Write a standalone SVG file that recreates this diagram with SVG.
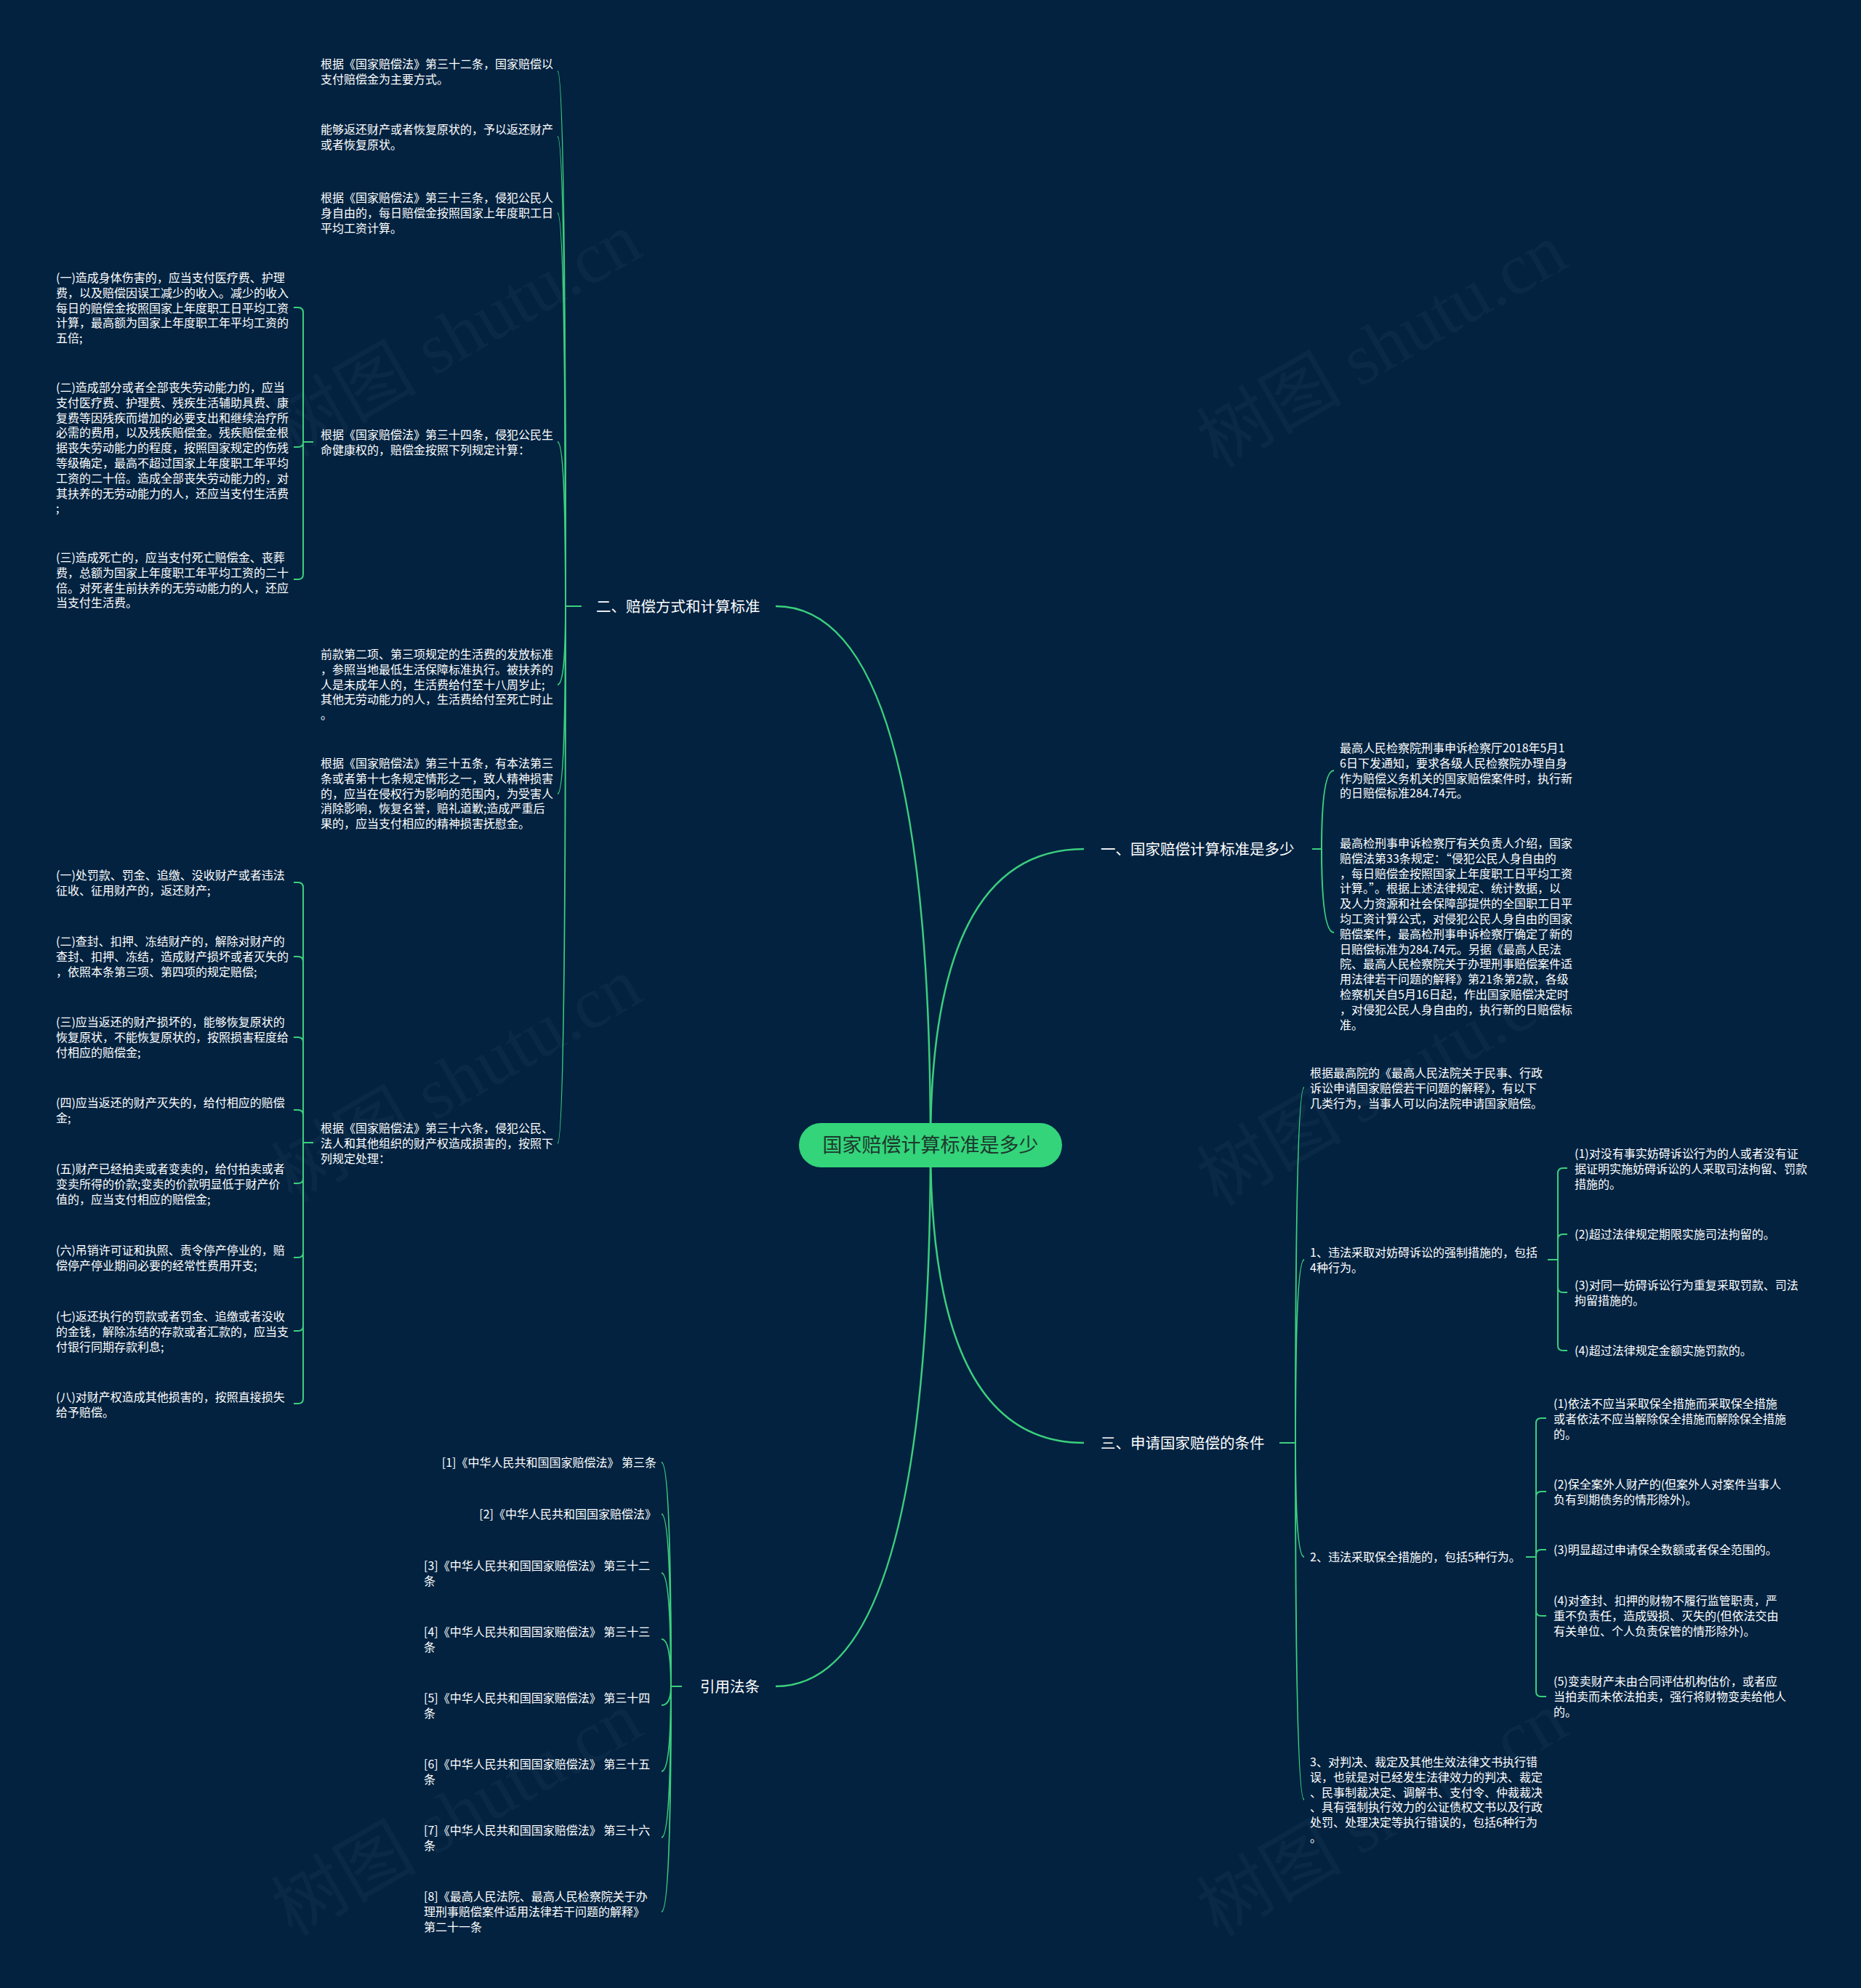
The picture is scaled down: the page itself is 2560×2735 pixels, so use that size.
<svg xmlns="http://www.w3.org/2000/svg" width="2560" height="2735" viewBox="0 0 2560 2735">
<style>
.t{font-family:"Noto Sans CJK SC","Noto Sans",sans-serif;font-size:16px;fill:#ffffff}
.lbl{font-family:"Noto Sans CJK SC","Noto Sans",sans-serif;font-size:20.5px;fill:#ffffff}
.ctr{font-family:"Noto Sans CJK SC","Noto Sans",sans-serif;font-size:27px;fill:#1d3a2e}
.c{fill:none;stroke:#3ccf7d;stroke-width:2}
.m{fill:none;stroke:#3ccf7d;stroke-width:2.5}
.wm{font-family:"Liberation Serif","Noto Sans CJK SC",serif;font-size:100px;fill:#ffffff;fill-opacity:0.035}
</style>
<rect x="0" y="0" width="2560" height="2735" fill="#022240"/>
<g id="watermarks">
<text class="wm" text-anchor="middle" transform="translate(645,490) rotate(-30)">树图 shutu.cn</text>
<text class="wm" text-anchor="middle" transform="translate(1918,505) rotate(-30)">树图 shutu.cn</text>
<text class="wm" text-anchor="middle" transform="translate(645,1515) rotate(-30)">树图 shutu.cn</text>
<text class="wm" text-anchor="middle" transform="translate(1918,1520) rotate(-30)">树图 shutu.cn</text>
<text class="wm" text-anchor="middle" transform="translate(645,2525) rotate(-30)">树图 shutu.cn</text>
<text class="wm" text-anchor="middle" transform="translate(1918,2525) rotate(-30)">树图 shutu.cn</text>
</g>
<g id="connectors">
<path class="m" d="M1280 1575 Q1280 834 1067 834"/>
<path class="m" d="M1280 1575 Q1280 1168 1491 1168"/>
<path class="m" d="M1280 1575 Q1280 1985 1491 1985"/>
<path class="m" d="M1280 1575 Q1280 2320 1067 2320"/>
<path class="c" d="M800 834 L778 834"/>
<path class="c" d="M778 834 Q778 98 767 98"/>
<path class="c" d="M778 834 Q778 188 767 188"/>
<path class="c" d="M778 834 Q778 293 767 293"/>
<path class="c" d="M778 834 Q778 608 767 608"/>
<path class="c" d="M778 834 Q778 942 767 942"/>
<path class="c" d="M778 834 Q778 1092 767 1092"/>
<path class="c" d="M778 834 Q778 1573 767 1573"/>
<path class="c" d="M431 608 L417 608"/>
<path class="c" d="M417 608 L417 430 Q417 423 410 423 L404 423"/>
<path class="c" d="M417 608 L417 609 Q417 615 410 615 L404 615"/>
<path class="c" d="M417 608 L417 790 Q417 797 410 797 L404 797"/>
<path class="c" d="M431 1572 L417 1572"/>
<path class="c" d="M417 1572 L417 1221 Q417 1214 410 1214 L404 1214"/>
<path class="c" d="M417 1572 L417 1323 Q417 1316 410 1316 L404 1316"/>
<path class="c" d="M417 1572 L417 1434 Q417 1427 410 1427 L404 1427"/>
<path class="c" d="M417 1572 L417 1534 Q417 1527 410 1527 L404 1527"/>
<path class="c" d="M417 1572 L417 1621 Q417 1628 410 1628 L404 1628"/>
<path class="c" d="M417 1572 L417 1723 Q417 1730 410 1730 L404 1730"/>
<path class="c" d="M417 1572 L417 1824 Q417 1831 410 1831 L404 1831"/>
<path class="c" d="M417 1572 L417 1924 Q417 1931 410 1931 L404 1931"/>
<path class="c" d="M1805 1168 L1818 1168"/>
<path class="c" d="M1818 1168 Q1818 1060 1835 1060"/>
<path class="c" d="M1818 1168 Q1818 1283 1835 1283"/>
<path class="c" d="M1760 1985 L1782 1985"/>
<path class="c" d="M1782 1985 Q1782 1496 1794 1496"/>
<path class="c" d="M1782 1985 Q1782 1733 1794 1733"/>
<path class="c" d="M1782 1985 Q1782 2142 1794 2142"/>
<path class="c" d="M1782 1985 Q1782 2476 1794 2476"/>
<path class="c" d="M2129 1733 L2143 1733"/>
<path class="c" d="M2143 1733 L2143 1614 Q2143 1607 2150 1607 L2156 1607"/>
<path class="c" d="M2143 1733 L2143 1705 Q2143 1698 2150 1698 L2156 1698"/>
<path class="c" d="M2143 1733 L2143 1771 Q2143 1778 2150 1778 L2156 1778"/>
<path class="c" d="M2143 1733 L2143 1851 Q2143 1858 2150 1858 L2156 1858"/>
<path class="c" d="M2099 2142 L2113 2142"/>
<path class="c" d="M2113 2142 L2113 1958 Q2113 1951 2120 1951 L2127 1951"/>
<path class="c" d="M2113 2142 L2113 2059 Q2113 2052 2120 2052 L2127 2052"/>
<path class="c" d="M2113 2142 L2113 2139 Q2113 2132 2120 2132 L2127 2132"/>
<path class="c" d="M2113 2142 L2113 2216 Q2113 2223 2120 2223 L2127 2223"/>
<path class="c" d="M2113 2142 L2113 2327 Q2113 2334 2120 2334 L2127 2334"/>
<path class="c" d="M938 2320 L923 2320"/>
<path class="c" d="M923 2320 Q923 2012 910 2012"/>
<path class="c" d="M923 2320 Q923 2083 910 2083"/>
<path class="c" d="M923 2320 Q923 2164 910 2164"/>
<path class="c" d="M923 2320 Q923 2255 910 2255"/>
<path class="c" d="M923 2320 Q923 2346 910 2346"/>
<path class="c" d="M923 2320 Q923 2437 910 2437"/>
<path class="c" d="M923 2320 Q923 2528 910 2528"/>
<path class="c" d="M923 2320 Q923 2630 910 2630"/>
</g>
<g id="center">
<rect x="1099" y="1545" width="362" height="61" rx="30.5" fill="#33d47a"/>
<text class="ctr" x="1280" y="1585" text-anchor="middle">国家赔偿计算标准是多少</text>
</g>
<g id="b2"><text class="lbl" x="820" y="842">二、赔偿方式和计算标准</text></g>
<g id="b1"><text class="lbl" x="1514" y="1176">一、国家赔偿计算标准是多少</text></g>
<g id="b3"><text class="lbl" x="1514" y="1993">三、申请国家赔偿的条件</text></g>
<g id="b4"><text class="lbl" x="963" y="2328">引用法条</text></g>
<g id="b2-1"><text class="t" x="441" y="94"><tspan x="441">根据《国家赔偿法》第三十二条，国家赔偿以</tspan><tspan x="441" dy="20.8">支付赔偿金为主要方式。</tspan></text></g>
<g id="b2-2"><text class="t" x="441" y="184"><tspan x="441">能够返还财产或者恢复原状的，予以返还财产</tspan><tspan x="441" dy="20.8">或者恢复原状。</tspan></text></g>
<g id="b2-3"><text class="t" x="441" y="278"><tspan x="441">根据《国家赔偿法》第三十三条，侵犯公民人</tspan><tspan x="441" dy="20.8">身自由的，每日赔偿金按照国家上年度职工日</tspan><tspan x="441" dy="20.8">平均工资计算。</tspan></text></g>
<g id="b2-4"><text class="t" x="441" y="604"><tspan x="441">根据《国家赔偿法》第三十四条，侵犯公民生</tspan><tspan x="441" dy="20.8">命健康权的，赔偿金按照下列规定计算：</tspan></text></g>
<g id="b2-5"><text class="t" x="441" y="906"><tspan x="441">前款第二项、第三项规定的生活费的发放标准</tspan><tspan x="441" dy="20.8">，参照当地最低生活保障标准执行。被扶养的</tspan><tspan x="441" dy="20.8">人是未成年人的，生活费给付至十八周岁止;</tspan><tspan x="441" dy="20.8">其他无劳动能力的人，生活费给付至死亡时止</tspan><tspan x="441" dy="20.8">。</tspan></text></g>
<g id="b2-6"><text class="t" x="441" y="1056"><tspan x="441">根据《国家赔偿法》第三十五条，有本法第三</tspan><tspan x="441" dy="20.8">条或者第十七条规定情形之一，致人精神损害</tspan><tspan x="441" dy="20.8">的，应当在侵权行为影响的范围内，为受害人</tspan><tspan x="441" dy="20.8">消除影响，恢复名誉，赔礼道歉;造成严重后</tspan><tspan x="441" dy="20.8">果的，应当支付相应的精神损害抚慰金。</tspan></text></g>
<g id="b2-7"><text class="t" x="441" y="1558"><tspan x="441">根据《国家赔偿法》第三十六条，侵犯公民、</tspan><tspan x="441" dy="20.8">法人和其他组织的财产权造成损害的，按照下</tspan><tspan x="441" dy="20.8">列规定处理：</tspan></text></g>
<g id="b2-4-1"><text class="t" x="77" y="388"><tspan x="77">(一)造成身体伤害的，应当支付医疗费、护理</tspan><tspan x="77" dy="20.8">费，以及赔偿因误工减少的收入。减少的收入</tspan><tspan x="77" dy="20.8">每日的赔偿金按照国家上年度职工日平均工资</tspan><tspan x="77" dy="20.8">计算，最高额为国家上年度职工年平均工资的</tspan><tspan x="77" dy="20.8">五倍;</tspan></text></g>
<g id="b2-4-2"><text class="t" x="77" y="539"><tspan x="77">(二)造成部分或者全部丧失劳动能力的，应当</tspan><tspan x="77" dy="20.8">支付医疗费、护理费、残疾生活辅助具费、康</tspan><tspan x="77" dy="20.8">复费等因残疾而增加的必要支出和继续治疗所</tspan><tspan x="77" dy="20.8">必需的费用，以及残疾赔偿金。残疾赔偿金根</tspan><tspan x="77" dy="20.8">据丧失劳动能力的程度，按照国家规定的伤残</tspan><tspan x="77" dy="20.8">等级确定，最高不超过国家上年度职工年平均</tspan><tspan x="77" dy="20.8">工资的二十倍。造成全部丧失劳动能力的，对</tspan><tspan x="77" dy="20.8">其扶养的无劳动能力的人，还应当支付生活费</tspan><tspan x="77" dy="20.8">;</tspan></text></g>
<g id="b2-4-3"><text class="t" x="77" y="773"><tspan x="77">(三)造成死亡的，应当支付死亡赔偿金、丧葬</tspan><tspan x="77" dy="20.8">费，总额为国家上年度职工年平均工资的二十</tspan><tspan x="77" dy="20.8">倍。对死者生前扶养的无劳动能力的人，还应</tspan><tspan x="77" dy="20.8">当支付生活费。</tspan></text></g>
<g id="b2-7-1"><text class="t" x="77" y="1210"><tspan x="77">(一)处罚款、罚金、追缴、没收财产或者违法</tspan><tspan x="77" dy="20.8">征收、征用财产的，返还财产;</tspan></text></g>
<g id="b2-7-2"><text class="t" x="77" y="1301"><tspan x="77">(二)查封、扣押、冻结财产的，解除对财产的</tspan><tspan x="77" dy="20.8">查封、扣押、冻结，造成财产损坏或者灭失的</tspan><tspan x="77" dy="20.8">，依照本条第三项、第四项的规定赔偿;</tspan></text></g>
<g id="b2-7-3"><text class="t" x="77" y="1412"><tspan x="77">(三)应当返还的财产损坏的，能够恢复原状的</tspan><tspan x="77" dy="20.8">恢复原状，不能恢复原状的，按照损害程度给</tspan><tspan x="77" dy="20.8">付相应的赔偿金;</tspan></text></g>
<g id="b2-7-4"><text class="t" x="77" y="1523"><tspan x="77">(四)应当返还的财产灭失的，给付相应的赔偿</tspan><tspan x="77" dy="20.8">金;</tspan></text></g>
<g id="b2-7-5"><text class="t" x="77" y="1614"><tspan x="77">(五)财产已经拍卖或者变卖的，给付拍卖或者</tspan><tspan x="77" dy="20.8">变卖所得的价款;变卖的价款明显低于财产价</tspan><tspan x="77" dy="20.8">值的，应当支付相应的赔偿金;</tspan></text></g>
<g id="b2-7-6"><text class="t" x="77" y="1726"><tspan x="77">(六)吊销许可证和执照、责令停产停业的，赔</tspan><tspan x="77" dy="20.8">偿停产停业期间必要的经常性费用开支;</tspan></text></g>
<g id="b2-7-7"><text class="t" x="77" y="1817"><tspan x="77">(七)返还执行的罚款或者罚金、追缴或者没收</tspan><tspan x="77" dy="20.8">的金钱，解除冻结的存款或者汇款的，应当支</tspan><tspan x="77" dy="20.8">付银行同期存款利息;</tspan></text></g>
<g id="b2-7-8"><text class="t" x="77" y="1928"><tspan x="77">(八)对财产权造成其他损害的，按照直接损失</tspan><tspan x="77" dy="20.8">给予赔偿。</tspan></text></g>
<g id="b1-1"><text class="t" x="1843" y="1035"><tspan x="1843">最高人民检察院刑事申诉检察厅2018年5月1</tspan><tspan x="1843" dy="20.8">6日下发通知，要求各级人民检察院办理自身</tspan><tspan x="1843" dy="20.8">作为赔偿义务机关的国家赔偿案件时，执行新</tspan><tspan x="1843" dy="20.8">的日赔偿标准284.74元。</tspan></text></g>
<g id="b1-2"><text class="t" x="1843" y="1166"><tspan x="1843">最高检刑事申诉检察厅有关负责人介绍，国家</tspan><tspan x="1843" dy="20.8">赔偿法第33条规定：“侵犯公民人身自由的</tspan><tspan x="1843" dy="20.8">，每日赔偿金按照国家上年度职工日平均工资</tspan><tspan x="1843" dy="20.8">计算。”。根据上述法律规定、统计数据，以</tspan><tspan x="1843" dy="20.8">及人力资源和社会保障部提供的全国职工日平</tspan><tspan x="1843" dy="20.8">均工资计算公式，对侵犯公民人身自由的国家</tspan><tspan x="1843" dy="20.8">赔偿案件，最高检刑事申诉检察厅确定了新的</tspan><tspan x="1843" dy="20.8">日赔偿标准为284.74元。另据《最高人民法</tspan><tspan x="1843" dy="20.8">院、最高人民检察院关于办理刑事赔偿案件适</tspan><tspan x="1843" dy="20.8">用法律若干问题的解释》第21条第2款，各级</tspan><tspan x="1843" dy="20.8">检察机关自5月16日起，作出国家赔偿决定时</tspan><tspan x="1843" dy="20.8">，对侵犯公民人身自由的，执行新的日赔偿标</tspan><tspan x="1843" dy="20.8">准。</tspan></text></g>
<g id="b3-1"><text class="t" x="1802" y="1482"><tspan x="1802">根据最高院的《最高人民法院关于民事、行政</tspan><tspan x="1802" dy="20.8">诉讼申请国家赔偿若干问题的解释》，有以下</tspan><tspan x="1802" dy="20.8">几类行为，当事人可以向法院申请国家赔偿。</tspan></text></g>
<g id="b3-2"><text class="t" x="1802" y="1729"><tspan x="1802">1、违法采取对妨碍诉讼的强制措施的，包括</tspan><tspan x="1802" dy="20.8">4种行为。</tspan></text></g>
<g id="b3-3"><text class="t" x="1802" y="2148">2、违法采取保全措施的，包括5种行为。</text></g>
<g id="b3-4"><text class="t" x="1802" y="2430"><tspan x="1802">3、对判决、裁定及其他生效法律文书执行错</tspan><tspan x="1802" dy="20.8">误，也就是对已经发生法律效力的判决、裁定</tspan><tspan x="1802" dy="20.8">、民事制裁决定、调解书、支付令、仲裁裁决</tspan><tspan x="1802" dy="20.8">、具有强制执行效力的公证债权文书以及行政</tspan><tspan x="1802" dy="20.8">处罚、处理决定等执行错误的，包括6种行为</tspan><tspan x="1802" dy="20.8">。</tspan></text></g>
<g id="b3-2-1"><text class="t" x="2166" y="1593"><tspan x="2166">(1)对没有事实妨碍诉讼行为的人或者没有证</tspan><tspan x="2166" dy="20.8">据证明实施妨碍诉讼的人采取司法拘留、罚款</tspan><tspan x="2166" dy="20.8">措施的。</tspan></text></g>
<g id="b3-2-2"><text class="t" x="2166" y="1704">(2)超过法律规定期限实施司法拘留的。</text></g>
<g id="b3-2-3"><text class="t" x="2166" y="1774"><tspan x="2166">(3)对同一妨碍诉讼行为重复采取罚款、司法</tspan><tspan x="2166" dy="20.8">拘留措施的。</tspan></text></g>
<g id="b3-2-4"><text class="t" x="2166" y="1864">(4)超过法律规定金额实施罚款的。</text></g>
<g id="b3-3-1"><text class="t" x="2137" y="1937"><tspan x="2137">(1)依法不应当采取保全措施而采取保全措施</tspan><tspan x="2137" dy="20.8">或者依法不应当解除保全措施而解除保全措施</tspan><tspan x="2137" dy="20.8">的。</tspan></text></g>
<g id="b3-3-2"><text class="t" x="2137" y="2048"><tspan x="2137">(2)保全案外人财产的(但案外人对案件当事人</tspan><tspan x="2137" dy="20.8">负有到期债务的情形除外)。</tspan></text></g>
<g id="b3-3-3"><text class="t" x="2137" y="2138">(3)明显超过申请保全数额或者保全范围的。</text></g>
<g id="b3-3-4"><text class="t" x="2137" y="2208"><tspan x="2137">(4)对查封、扣押的财物不履行监管职责，严</tspan><tspan x="2137" dy="20.8">重不负责任，造成毁损、灭失的(但依法交由</tspan><tspan x="2137" dy="20.8">有关单位、个人负责保管的情形除外)。</tspan></text></g>
<g id="b3-3-5"><text class="t" x="2137" y="2319"><tspan x="2137">(5)变卖财产未由合同评估机构估价，或者应</tspan><tspan x="2137" dy="20.8">当拍卖而未依法拍卖，强行将财物变卖给他人</tspan><tspan x="2137" dy="20.8">的。</tspan></text></g>
<g id="b4-1"><text class="t" x="903" y="2018" text-anchor="end">[1]《中华人民共和国国家赔偿法》 第三条</text></g>
<g id="b4-2"><text class="t" x="903" y="2089" text-anchor="end">[2]《中华人民共和国国家赔偿法》</text></g>
<g id="b4-3"><text class="t" x="583" y="2160"><tspan x="583">[3]《中华人民共和国国家赔偿法》 第三十二</tspan><tspan x="583" dy="20.8">条</tspan></text></g>
<g id="b4-4"><text class="t" x="583" y="2251"><tspan x="583">[4]《中华人民共和国国家赔偿法》 第三十三</tspan><tspan x="583" dy="20.8">条</tspan></text></g>
<g id="b4-5"><text class="t" x="583" y="2342"><tspan x="583">[5]《中华人民共和国国家赔偿法》 第三十四</tspan><tspan x="583" dy="20.8">条</tspan></text></g>
<g id="b4-6"><text class="t" x="583" y="2433"><tspan x="583">[6]《中华人民共和国国家赔偿法》 第三十五</tspan><tspan x="583" dy="20.8">条</tspan></text></g>
<g id="b4-7"><text class="t" x="583" y="2524"><tspan x="583">[7]《中华人民共和国国家赔偿法》 第三十六</tspan><tspan x="583" dy="20.8">条</tspan></text></g>
<g id="b4-8"><text class="t" x="583" y="2615"><tspan x="583">[8]《最高人民法院、最高人民检察院关于办</tspan><tspan x="583" dy="20.8">理刑事赔偿案件适用法律若干问题的解释》</tspan><tspan x="583" dy="20.8">第二十一条</tspan></text></g>
</svg>
